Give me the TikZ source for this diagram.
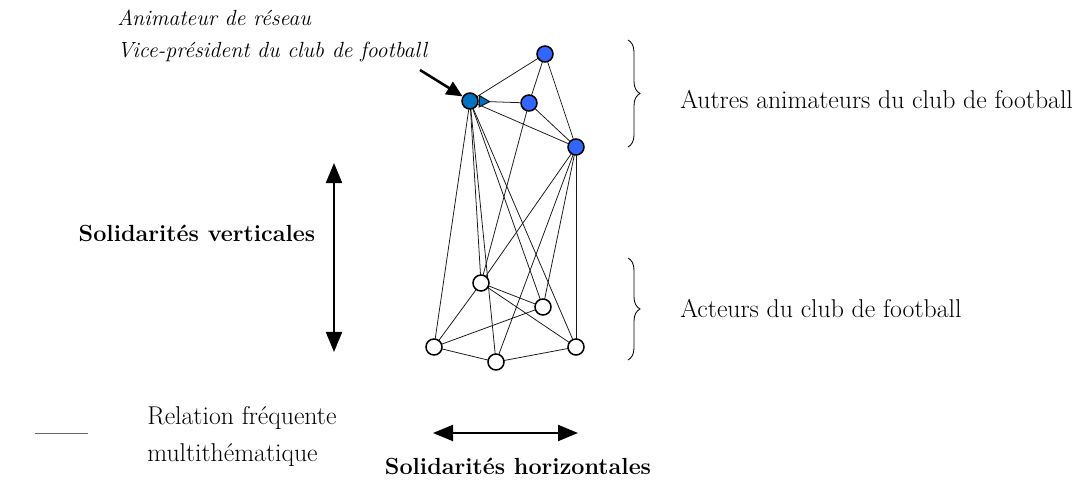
\documentclass[tikz,border=0pt]{standalone}
\usepackage{fontspec}
\usepackage{tikz}
\usetikzlibrary{arrows.meta, positioning, decorations.pathreplacing}

\definecolor{vpblue}{RGB}{0,112,192}
\definecolor{animblue}{RGB}{51,102,255}

\begin{document}
\begin{tikzpicture}[
    x=0.025cm, y=-0.025cm,
    font=\fontsize{18.3}{22}\selectfont,
    member/.style={circle, draw, line width=1.1pt, minimum size=0.4cm, inner sep=0pt},
    animnode/.style={member, fill=animblue},
    vpnode/.style={member, fill=vpblue},
    actnode/.style={member, fill=white},
    rel/.style={line width=0.55pt, black!90},
    bigarrow/.style={{Triangle[length=0.5cm, width=0.4cm]}-{Triangle[length=0.5cm, width=0.4cm]}, line width=1.4pt},
    label/.style={anchor=west, inner sep=0pt},
    note/.style={label, font=\fontsize{15.6}{19}\selectfont\itshape},
    title/.style={font=\fontsize{16.6}{20}\selectfont\bfseries},
    groupbrace/.style={decorate, decoration={brace, amplitude=0.3cm}, line width=0.6pt}
]
\useasboundingbox (0,0) rectangle (1086,484);

% Edges (drawn first, nodes on top)
\coordinate (pV) at (470,101);
\coordinate (pB1) at (545,54);
\coordinate (pB2) at (529,103);
\coordinate (pB3) at (576,147);
\coordinate (pW1) at (481,283);
\coordinate (pW2) at (543,307);
\coordinate (pW3) at (434,347);
\coordinate (pW4) at (496,362);
\coordinate (pW5) at (576,347);

\foreach \a/\b in {V/B1, B1/B2, B1/B3, V/B3, B2/B3,
                   V/W1, V/W2, V/W3, V/W4, V/W5,
                   B2/W1, B3/W1, B3/W2, B3/W4, B3/W5,
                   W1/W2, W1/W3, W1/W5, W3/W2, W3/W4, W4/W5}
    \draw[rel] (p\a) -- (p\b);

% Nodes
\node[vpnode] (V) at (pV) {};
\node[animnode] (B1) at (pB1) {};
\node[animnode] (B2) at (pB2) {};
\node[animnode] (B3) at (pB3) {};
\foreach \n in {W1, W2, W3, W4, W5}
    \node[actnode] (\n) at (p\n) {};

\draw[rel, {Triangle[reversed, length=0.3cm, width=0.32cm, fill=vpblue, line width=0.8pt]}-] (V) -- (B2);

% Labels
\node[note] (anim) at (117,18) {Animateur de réseau};
\node[note] (vp) at (117,52) {Vice-président du club de football};
\coordinate (ptr) at (420,70);
\draw[-{Triangle[length=0.4cm, width=0.36cm]}, line width=1.8pt] (ptr) -- (V);

\node[label] (autres) at (680,100) {Autres animateurs du club de football};
\node[label] (acteurs) at (680,309) {Acteurs du club de football};
\draw[groupbrace] (628,40) -- (628,147);
\draw[groupbrace] (628,258) -- (628,360);

\node[title] (vert) at (197,233) {Solidarités verticales};
\coordinate (vtop) at (334,163);
\coordinate (vbot) at (334,352);
\draw[bigarrow] (vtop) -- (vbot);

\coordinate (hl) at (433,433);
\coordinate (hr) at (578,433);
\draw[bigarrow] (hl) -- (hr);
\node[title] (horiz) at (518,466) {Solidarités horizontales};

% Legend
\coordinate (la) at (35,433);
\coordinate (lb) at (88,433);
\draw[rel, black!60] (la) -- (lb);
\node[label] (leg1) at (147,418) {Relation fréquente};
\node[label] (leg2) at (147,455) {multithématique};

\end{tikzpicture}
\end{document}
